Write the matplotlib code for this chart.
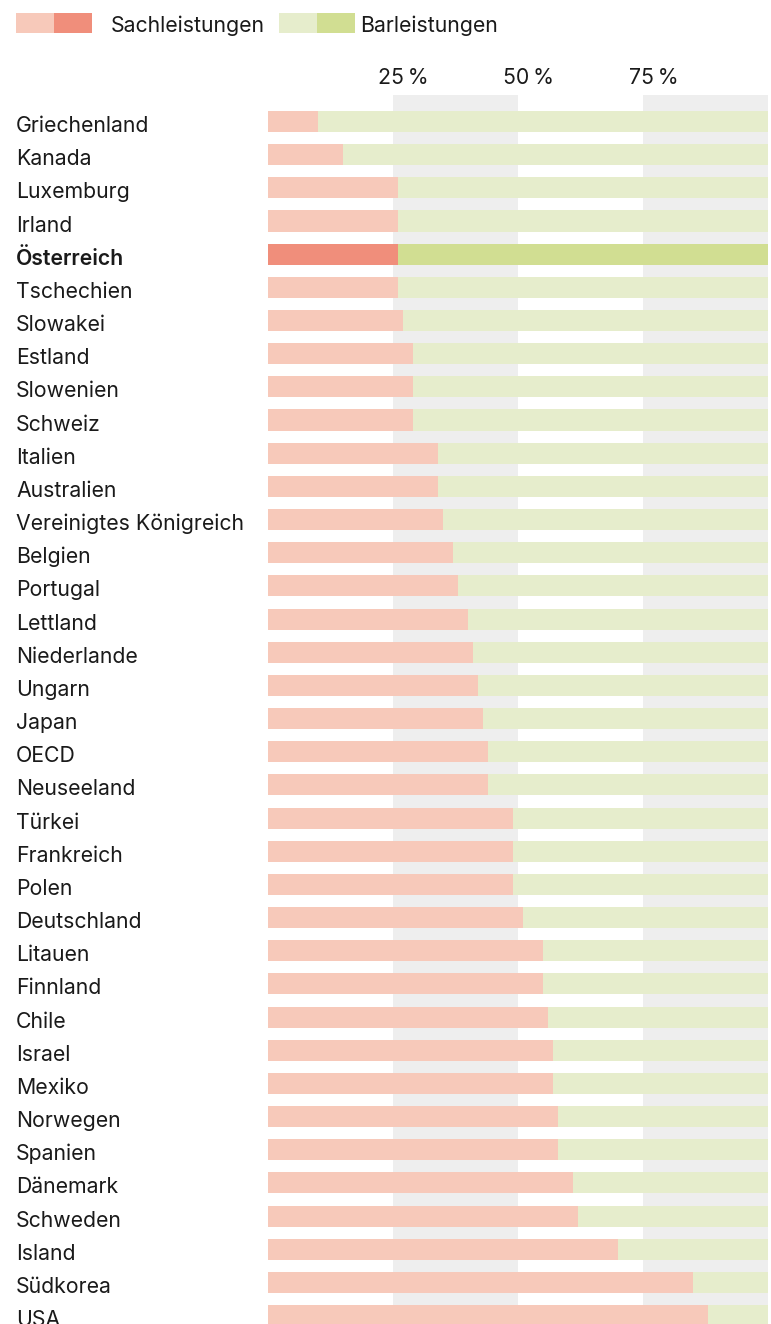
import matplotlib.pyplot as plt
from matplotlib.patches import Rectangle
import matplotlib.transforms as mtransforms

plt.rcParams['font.family'] = ['Inter', 'DejaVu Sans']

# data: share of in-kind benefits (Sachleistungen) in %, rest is cash (Barleistungen)
countries = ['Griechenland', 'Kanada', 'Luxemburg', 'Irland', 'Österreich', 'Tschechien',
             'Slowakei', 'Estland', 'Slowenien', 'Schweiz', 'Italien', 'Australien',
             'Vereinigtes Königreich', 'Belgien', 'Portugal', 'Lettland', 'Niederlande',
             'Ungarn', 'Japan', 'OECD', 'Neuseeland', 'Türkei', 'Frankreich', 'Polen',
             'Deutschland', 'Litauen', 'Finnland', 'Chile', 'Israel', 'Mexiko', 'Norwegen',
             'Spanien', 'Dänemark', 'Schweden', 'Island', 'Südkorea', 'USA']
sach = [10, 15, 26, 26, 26, 26, 27, 29, 29, 29, 34, 34, 35, 37, 38, 40, 41, 42, 43, 44, 44,
        49, 49, 49, 51, 55, 55, 56, 57, 57, 58, 58, 61, 62, 70, 85, 88]
bar = [100 - s for s in sach]
highlight = 'Österreich'
tick_vals = [25, 50, 75]

sach_light, sach_dark = '#f7c9ba', '#f08e7b'
bar_light, bar_dark = '#e6edcc', '#d1de92'
band = '#eeeeee'
txt = '#1a1a1a'
fs = 15.3

W, H = 771, 1324
fig = plt.figure(figsize=(W / 100, H / 100), dpi=100)
ax = fig.add_axes([268 / W, 0, 500 / W, 1 - 95 / H])

row = 33.17
ax.set_xlim(0, 100)
ax.set_ylim((H - 121.5) / row, -(121.5 - 95) / row)
ax.axis('off')

ax.axvspan(25, 50, color=band, zorder=0, lw=0)
ax.axvspan(75, 100, color=band, zorder=0, lw=0)

ys = range(len(countries))
c1 = [sach_dark if c == highlight else sach_light for c in countries]
c2 = [bar_dark if c == highlight else bar_light for c in countries]
ax.barh(ys, sach, height=0.635, color=c1, lw=0, zorder=2)
ax.barh(ys, bar, left=sach, height=0.635, color=c2, lw=0, zorder=2)

# country labels, baseline about 10 px below bar centre
off = mtransforms.ScaledTranslation(0, -10.5 / 100, fig.dpi_scale_trans)
lab_tr = mtransforms.blended_transform_factory(fig.transFigure, ax.transData) + off
for y, c in zip(ys, countries):
    ax.text(16 / W, y, c, transform=lab_tr, ha='left', va='baseline', fontsize=fs,
            color=txt, fontweight='semibold' if c == highlight else 'normal')

tick_tr = mtransforms.blended_transform_factory(ax.transData, fig.transFigure)
for t in tick_vals:
    ax.text(t + 2.1, 1 - 84 / H, f'{t}\u2009%', transform=tick_tr, ha='center', va='baseline',
            fontsize=fs, color=txt)

# legend
for x0, col in [(16, sach_light), (54, sach_dark), (279, bar_light), (317, bar_dark)]:
    fig.patches.append(Rectangle((x0 / W, 1 - 33 / H), 38 / W, 20 / H,
                                 transform=fig.transFigure, color=col, lw=0))
fig.text(111 / W, 1 - 31.5 / H, 'Sachleistungen', ha='left', va='baseline', fontsize=fs, color=txt)
fig.text(360 / W, 1 - 31.5 / H, 'Barleistungen', ha='left', va='baseline', fontsize=fs, color=txt)

fig.savefig('out.png', dpi=100)
